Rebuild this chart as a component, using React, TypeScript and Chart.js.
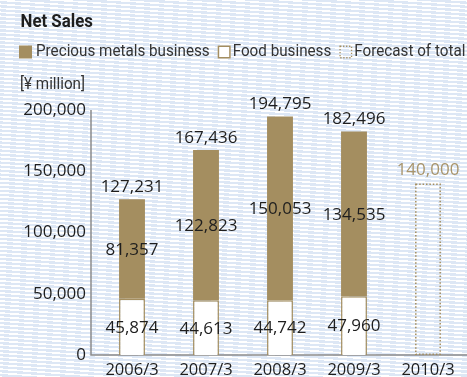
import React, { useEffect, useRef } from "react";
import { Chart, registerables } from "chart.js";

Chart.register(...registerables);

// Fiscal years and net sales by segment, ¥ million
const categories = ["2006/3", "2007/3", "2008/3", "2009/3", "2010/3"];
const foodBusiness: (number | null)[] = [45874, 44613, 44742, 47960, null];
const preciousMetals: (number | null)[] = [81357, 122823, 150053, 134535, null];
const totals: (number | null)[] = [127231, 167436, 194795, 182496, null];
const forecastTotal: (number | null)[] = [null, null, null, null, 140000];
const legendItems = ["Precious metals business", "Food business", "Forecast of total"];

const BROWN = "#a48e60";
const FORECAST_TEXT = "#a8946b";
const TEXT = "#1e1e1e";
const AXIS = "#8c8c8c";
const NUM_FONT = '"Open Sans", sans-serif';
const TXT_FONT = 'Roboto, sans-serif';

const fmt = (v: number) => v.toLocaleString("en-US");

// draws text squeezed horizontally, returns drawn width
function narrowText(ctx: CanvasRenderingContext2D, s: string, x: number, y: number, sx: number) {
  ctx.save();
  ctx.translate(x, y);
  ctx.scale(sx, 1);
  ctx.fillText(s, 0, 0);
  const w = ctx.measureText(s).width * sx;
  ctx.restore();
  return w;
}

const decorations = {
  id: "decorations",
  beforeDraw(chart: any) {
    const ctx = chart.ctx as CanvasRenderingContext2D;
    ctx.save();
    ctx.textBaseline = "alphabetic";
    ctx.textAlign = "left";

    // title
    ctx.fillStyle = TEXT;
    ctx.font = `bold 18.5px ${TXT_FONT}`;
    narrowText(ctx, "Net Sales", 20.5, 27, 0.91);

    // legend
    ctx.font = `17px ${TXT_FONT}`;
    let x = 19;
    const base = 56;
    const s = 13;
    const top = 45.5;
    legendItems.forEach((label, i) => {
      if (i === 0) {
        ctx.fillStyle = BROWN;
        ctx.fillRect(x, top, s, s);
      } else if (i === 1) {
        ctx.fillStyle = "#ffffff";
        ctx.fillRect(x, top, s, s);
        ctx.strokeStyle = BROWN;
        ctx.lineWidth = 1.5;
        ctx.strokeRect(x + 0.75, top + 0.75, s - 1.5, s - 1.5);
      } else {
        ctx.strokeStyle = BROWN;
        ctx.lineWidth = 1.3;
        ctx.setLineDash([1.3, 1.7]);
        ctx.strokeRect(x + 0.75, top + 0.75, s - 1.5, s - 1.5);
        ctx.setLineDash([]);
      }
      x += s + (i === 0 ? 4 : 2);
      ctx.fillStyle = "#333333";
      x += narrowText(ctx, label, x, base, 0.895) + 8;
    });

    // unit
    narrowText(ctx, "[¥ million]", 20, 88.5, 0.895);
    ctx.restore();
  },
  beforeDatasetsDraw(chart: any) {
    const ctx = chart.ctx as CanvasRenderingContext2D;
    const { left, top, bottom } = chart.chartArea;
    const ax = left - 4;
    ctx.save();
    ctx.strokeStyle = AXIS;
    ctx.lineWidth = 1.5;
    ctx.beginPath();
    ctx.moveTo(ax, top);
    ctx.lineTo(ax, bottom);
    ctx.lineTo(chart.width, bottom);
    ctx.stroke();
    ctx.restore();
  },
  afterDatasetsDraw(chart: any) {
    const ctx = chart.ctx as CanvasRenderingContext2D;
    const food = chart.getDatasetMeta(0).data;
    const pm = chart.getDatasetMeta(1).data;
    const fc = chart.getDatasetMeta(2).data;
    ctx.save();
    ctx.textAlign = "center";
    ctx.textBaseline = "middle";
    ctx.font = `17px ${NUM_FONT}`;

    // dotted forecast outline and its label
    fc.forEach((el: any, i: number) => {
      const v = forecastTotal[i];
      if (v == null) return;
      const { x, y, base, width } = el.getProps(["x", "y", "base", "width"], true);
      ctx.strokeStyle = BROWN;
      ctx.lineWidth = 1.5;
      ctx.setLineDash([1.5, 1.9]);
      ctx.strokeRect(x - width / 2 + 0.75, y + 0.75, width - 1.5, base - y - 1.5);
      ctx.setLineDash([]);
      ctx.fillStyle = FORECAST_TEXT;
      ctx.fillText(fmt(v), x, y - 13);
    });

    ctx.fillStyle = TEXT;
    food.forEach((el: any, i: number) => {
      const fv = foodBusiness[i];
      const pv = preciousMetals[i];
      const tv = totals[i];
      if (fv != null) {
        const { x, y, base } = el.getProps(["x", "y", "base"], true);
        ctx.fillText(fmt(fv), x, (y + base) / 2 + 1);
      }
      if (pv != null) {
        const p = pm[i].getProps(["x", "y", "base"], true);
        ctx.fillText(fmt(pv), p.x, (p.y + p.base) / 2 + 1);
        if (tv != null) ctx.fillText(fmt(tv), p.x, p.y - 12);
      }
    });
    ctx.restore();
  },
};

export default function App() {
  const ref = useRef<HTMLCanvasElement | null>(null);

  useEffect(() => {
    if (!ref.current) return;
    const chart = new Chart(ref.current, {
      type: "bar",
      data: {
        labels: categories,
        datasets: [
          {
            label: "Food business",
            data: foodBusiness,
            backgroundColor: "#ffffff",
            borderColor: BROWN,
            borderWidth: 1.5,
            borderSkipped: "start",
            stack: "s",
          },
          {
            label: "Precious metals business",
            data: preciousMetals,
            backgroundColor: BROWN,
            borderWidth: 0,
            stack: "s",
          },
          {
            label: "Forecast of total",
            data: forecastTotal,
            backgroundColor: "rgba(0,0,0,0)",
            borderWidth: 0,
            stack: "s",
          },
        ],
      },
      options: {
        responsive: false,
        animation: false,
        layout: { padding: { top: 110, right: 2, left: 0, bottom: 0 } },
        datasets: { bar: { categoryPercentage: 1, barPercentage: 0.35 } },
        plugins: {
          legend: { display: false },
          tooltip: { enabled: false },
          title: { display: false },
        },
        scales: {
          x: {
            stacked: true,
            grid: { display: false, drawTicks: false },
            border: { display: false },
            ticks: { padding: 5, color: TEXT, font: { family: NUM_FONT, size: 16.5 } },
            afterFit: (s: any) => {
              s.height = 22;
            },
          },
          y: {
            stacked: true,
            min: 0,
            max: 200000,
            grid: { display: false, drawTicks: false },
            border: { display: false },
            ticks: {
              stepSize: 50000,
              padding: 9,
              color: TEXT,
              font: { family: NUM_FONT, size: 17 },
              callback: (v: any) => fmt(Number(v)),
            },
            afterFit: (s: any) => {
              s.width = 95;
            },
          },
        },
      },
      plugins: [decorations],
    });
    return () => chart.destroy();
  }, []);

  return (
    <div
      style={{
        position: "absolute",
        left: 0,
        top: 0,
        width: 467,
        height: 377,
        overflow: "hidden",
        background:
          "repeating-linear-gradient(184deg, #ffffff 0px, #ffffff 1.6px, #dde7f5 1.6px, #dde7f5 4px)",
      }}
    >
      <canvas ref={ref} width={467} height={377} style={{ display: "block", width: 467, height: 377 }} />
    </div>
  );
}
